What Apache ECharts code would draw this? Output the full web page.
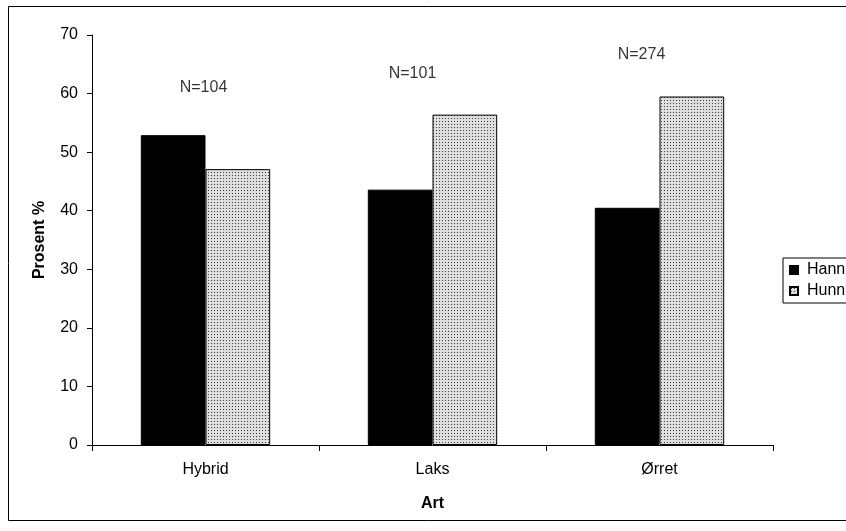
<!DOCTYPE html>
<html>
<head>
<meta charset="utf-8">
<script src="https://cdn.jsdelivr.net/npm/echarts@6/dist/echarts.min.js"></script>
<style>
  html, body { margin: 0; padding: 0; background: #fff; }
  #chart { width: 846px; height: 531px; }
</style>
</head>
<body>
<div id="chart"></div>
<script>
// Species on the x axis
const categories = ['Hybrid', 'Laks', 'Ørret'];
// Share of males and females, percent
const hannerValues = [52.9, 43.6, 40.5];
const hunnerValues = [47.1, 56.4, 59.5];
// Sample size per species, written above each group
const sampleLabels = ['N=104', 'N=101', 'N=274'];
const sampleLabelLevel = [61.1, 63.4, 66.6];
const yTicks = [0, 10, 20, 30, 40, 50, 60, 70];

// Horizontal nudge of the sample-size notes, in pixels
const noteNudge = [-2, -20, -18];

// Stippled fill used for the female bars
function stipple() {
  const c = document.createElement('canvas');
  c.width = 3; c.height = 3;
  const g = c.getContext('2d');
  g.fillStyle = '#dedede';
  g.fillRect(0, 0, 3, 3);
  g.fillStyle = '#3c3c3c';
  g.fillRect(1, 1, 1, 1);
  return c;
}
const dotFill = { image: stipple(), repeat: 'repeat' };

const font = 'Liberation Sans, Arial, sans-serif';
const fs = 16;
const chart = echarts.init(document.getElementById('chart'), null, { renderer: 'canvas' });

chart.setOption({
  animation: false,
  backgroundColor: '#fff',
  textStyle: { fontFamily: font, color: '#000' },
  graphic: [{
    type: 'rect',
    shape: { x: 8.5, y: 6.5, width: 900, height: 514 },
    style: { fill: 'none', stroke: '#000', lineWidth: 1 },
    silent: true
  }],
  grid: { left: 92, right: 73, top: 35, bottom: 86 },
  legend: {
    orient: 'vertical',
    left: 783,
    top: 258,
    padding: [4, 10, 4, 6],
    itemGap: 5,
    itemWidth: 8,
    itemHeight: 8,
    borderColor: '#000',
    borderWidth: 1,
    textStyle: { fontFamily: font, fontSize: fs, color: '#000', padding: [0, 0, 0, 4] },
    data: [
      { name: 'Hanner', icon: 'rect' },
      { name: 'Hunner', icon: 'rect' }
    ]
  },
  xAxis: {
    type: 'category',
    data: categories,
    name: 'Art',
    nameLocation: 'middle',
    nameGap: 51,
    nameTextStyle: { fontFamily: font, fontSize: fs, fontWeight: 'bold', color: '#000' },
    axisLine: { lineStyle: { color: '#000', width: 1 } },
    axisTick: { show: true, length: 6, inside: false, lineStyle: { color: '#000' } },
    axisLabel: { fontFamily: font, fontSize: fs, color: '#000', margin: 17 },
    splitLine: { show: false }
  },
  yAxis: {
    type: 'value',
    min: 0,
    max: 70,
    interval: 10,
    name: 'Prosent %',
    nameLocation: 'middle',
    nameRotate: 90,
    nameGap: 44,
    nameTextStyle: { fontFamily: font, fontSize: fs, fontWeight: 'bold', color: '#000' },
    axisLine: { show: true, lineStyle: { color: '#000', width: 1 } },
    axisTick: { show: true, length: 5, lineStyle: { color: '#000' } },
    axisLabel: {
      fontFamily: font, fontSize: fs, color: '#000', margin: 14,
      formatter: v => (yTicks.includes(v) ? String(v) : '')
    },
    splitLine: { show: false }
  },
  series: [
    {
      name: 'Hanner',
      type: 'bar',
      data: hannerValues,
      barGap: '0%',
      barCategoryGap: '43%',
      itemStyle: { color: '#000', borderColor: '#000', borderWidth: 1 }
    },
    {
      name: 'Hunner',
      type: 'bar',
      data: hunnerValues,
      itemStyle: { color: dotFill, borderColor: '#000', borderWidth: 1 }
    },
    {
      name: 'N',
      type: 'scatter',
      data: sampleLabelLevel.map((v, i) => ({
        value: [categories[i], v],
        label: { offset: [noteNudge[i], 0] }
      })),
      symbolSize: 0,
      silent: true,
      legendHoverLink: false,
      label: {
        show: true,
        position: 'inside',
        fontFamily: font,
        fontSize: fs,
        color: '#000',
        formatter: p => sampleLabels[p.dataIndex]
      }
    }
  ]
});
</script>
</body>
</html>
